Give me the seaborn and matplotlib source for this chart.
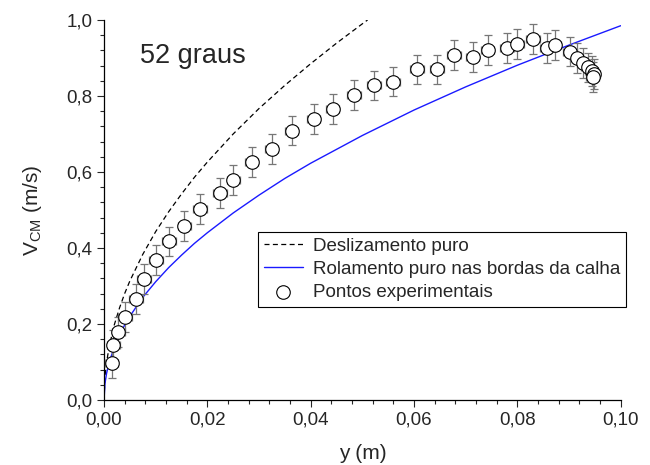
import numpy as np
import matplotlib
matplotlib.use('Agg')
import matplotlib.pyplot as plt
from matplotlib.ticker import MultipleLocator, FuncFormatter
import seaborn as sns

# curva de deslizamento puro
desl_y = [0.0, 0.0002, 0.0005, 0.001, 0.002, 0.003, 0.004, 0.005, 0.0075, 0.01,
          0.0125, 0.015, 0.0175, 0.02, 0.025, 0.03, 0.035, 0.04, 0.045, 0.05, 0.051]
desl_v = [0.0, 0.063, 0.099, 0.140, 0.198, 0.242, 0.280, 0.313, 0.383, 0.443,
          0.495, 0.542, 0.586, 0.626, 0.700, 0.767, 0.828, 0.885, 0.939, 0.990, 1.000]

# rolamento puro nas bordas da calha
rol_y = [0.0, 0.0002, 0.0005, 0.001, 0.002, 0.003, 0.004, 0.005, 0.0075, 0.01,
         0.0125, 0.015, 0.0175, 0.02, 0.025, 0.03, 0.035, 0.04, 0.05, 0.06,
         0.07, 0.08, 0.09, 0.1]
rol_v = [0.0, 0.044, 0.070, 0.099, 0.139, 0.171, 0.197, 0.220, 0.270, 0.311,
         0.348, 0.381, 0.412, 0.440, 0.492, 0.539, 0.583, 0.623, 0.696, 0.763,
         0.824, 0.881, 0.934, 0.985]

# pontos experimentais
exp_y = [0.00149, 0.0018, 0.00277, 0.00406, 0.00619, 0.00774, 0.01006, 0.01257,
         0.01553, 0.01857, 0.02244, 0.02501, 0.02857, 0.03244, 0.03631, 0.04056,
         0.04424, 0.04836, 0.05222, 0.05596, 0.06054, 0.06447, 0.0677, 0.07132,
         0.07422, 0.07801, 0.07998, 0.08304, 0.08574, 0.08723, 0.09014, 0.09149,
         0.09275, 0.09362, 0.09439, 0.09478, 0.09458]
exp_v = [0.097, 0.145, 0.178, 0.218, 0.266, 0.319, 0.368, 0.417,
         0.457, 0.503, 0.544, 0.579, 0.627, 0.661, 0.709, 0.739,
         0.765, 0.803, 0.828, 0.838, 0.870, 0.870, 0.908, 0.902,
         0.921, 0.927, 0.937, 0.950, 0.927, 0.934, 0.917, 0.900,
         0.887, 0.875, 0.866, 0.858, 0.850]
err_y = 0.0013
err_v = 0.039

sns.set_style('ticks')
plt.rcParams['font.family'] = ['Liberation Sans', 'DejaVu Sans']
plt.rcParams['mathtext.fontset'] = 'custom'
plt.rcParams['mathtext.rm'] = 'Liberation Sans'

fig = plt.figure(figsize=(6.5, 4.65), dpi=100)
ax = fig.add_axes([0.16, 0.14, 0.795, 0.817])

sns.lineplot(x=desl_y, y=desl_v, ax=ax, color='black', linewidth=0.9,
             linestyle=(0, (4, 2.7)), label='Deslizamento puro')
sns.lineplot(x=rol_y, y=rol_v, ax=ax, color='#1a1aff', linewidth=1.0,
             label='Rolamento puro nas bordas da calha')
ax.errorbar(exp_y, exp_v, xerr=err_y, yerr=err_v, fmt='none', ecolor='#777777',
            elinewidth=0.9, capsize=3, capthick=0.9, zorder=3)
sns.scatterplot(x=exp_y, y=exp_v, ax=ax, marker='o', s=95, facecolor='white',
                edgecolor='black', linewidth=0.8, zorder=4, label='Pontos experimentais')

ax.set_xlim(0, 0.1)
ax.set_ylim(0, 1.0)
ax.xaxis.set_major_locator(MultipleLocator(0.02))
ax.xaxis.set_minor_locator(MultipleLocator(0.004))
ax.yaxis.set_major_locator(MultipleLocator(0.2))
ax.yaxis.set_minor_locator(MultipleLocator(0.04))
ax.xaxis.set_major_formatter(FuncFormatter(lambda v, p: f'{v:.2f}'.replace('.', ',')))
ax.yaxis.set_major_formatter(FuncFormatter(lambda v, p: f'{v:.1f}'.replace('.', ',')))
ax.tick_params(which='major', length=5, width=0.8, labelsize=13.5, direction='out')
ax.tick_params(which='minor', length=3, width=0.8, direction='out')
sns.despine(ax=ax)
for s in ['left', 'bottom']:
    ax.spines[s].set_linewidth(0.9)
    ax.spines[s].set_color('black')

ax.set_xlabel('y (m)', fontsize=15, labelpad=11)
ax.set_ylabel(r'V$_\mathregular{CM}$ (m/s)', fontsize=15, labelpad=16)
ax.text(0.07, 0.905, '52 graus', transform=ax.transAxes, fontsize=19.5, va='center')

leg = ax.legend(loc='upper left', bbox_to_anchor=(0.298, 0.442), borderaxespad=0,
                fontsize=13.5, frameon=True, fancybox=False, edgecolor='black',
                framealpha=1, handlelength=2.1, borderpad=0.3, labelspacing=0.33,
                handletextpad=0.55)
leg.get_frame().set_linewidth(0.8)

fig.savefig('out.png', dpi=100)
